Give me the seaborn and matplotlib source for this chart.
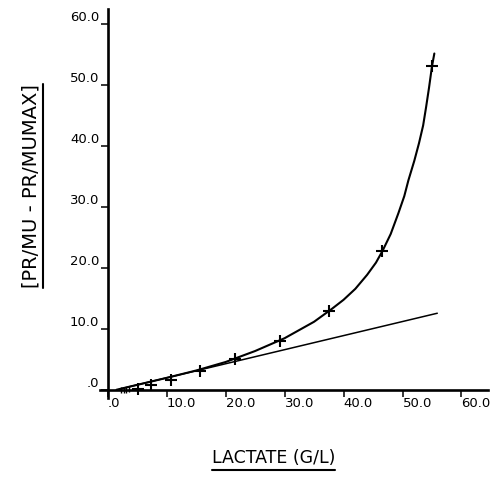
import numpy as np
import pandas as pd
import matplotlib
matplotlib.use("Agg")
import matplotlib.pyplot as plt
import seaborn as sns
from matplotlib.lines import Line2D

lactate_obs = [5.2, 7.4, 10.8, 15.6, 21.6, 29.2, 37.6, 46.6, 55.0]
ratio_obs = [0.2, 0.8, 1.6, 3.1, 5.1, 8.0, 13.0, 22.8, 53.1]

# tiny marks crowded near the origin
lactate_near0 = [2.3, 2.7, 3.1, 3.6]
ratio_near0 = [0.0, 0.0, 0.05, 0.1]

# fitted curve
curve_x = [1.5, 5.0, 10.0, 15.0, 20.0, 25.0, 30.0, 35.0, 38.0, 40.0, 42.0,
           44.0, 45.5, 46.6, 48.0, 49.3, 50.3, 51.0, 52.0, 52.8, 53.5, 54.0,
           54.5, 55.0, 55.4]
curve_y = [0.05, 0.85, 2.0, 3.2, 4.6, 6.4, 8.5, 11.2, 13.3, 14.8, 16.6,
           18.9, 20.9, 22.8, 25.6, 29.0, 31.8, 34.4, 37.6, 40.5, 43.4, 46.4,
           49.6, 53.1, 55.2]

# initial straight-line asymptote
line_x = [2.0, 55.9]
line_y = [0.16, 12.6]

x_ticks = [0, 10, 20, 30, 40, 50, 60]
x_ticklabels = [".0", "10.0", "20.0", "30.0", "40.0", "50.0", "60.0"]
y_ticks = [0, 10, 20, 30, 40, 50, 60]
y_ticklabels = [".0", "10.0", "20.0", "30.0", "40.0", "50.0", "60.0"]

sns.set_style("ticks")
plt.rcParams["font.family"] = ["DejaVu Sans"]
plt.rcParams["text.color"] = "black"
plt.rcParams["xtick.color"] = "black"
plt.rcParams["ytick.color"] = "black"

fig = plt.figure(figsize=(4.97, 4.78), dpi=100)
ax = fig.add_axes([0.2012, 0.1674, 0.7807, 0.8138])

df_curve = pd.DataFrame({"x": curve_x, "y": curve_y})
df_line = pd.DataFrame({"x": line_x, "y": line_y})
df_obs = pd.DataFrame({"x": lactate_obs, "y": ratio_obs})
df_near = pd.DataFrame({"x": lactate_near0, "y": ratio_near0})

sns.lineplot(data=df_curve, x="x", y="y", ax=ax, color="black", linewidth=1.5)
sns.lineplot(data=df_line, x="x", y="y", ax=ax, color="black", linewidth=1.1)
sns.scatterplot(data=df_obs, x="x", y="y", ax=ax, marker="+", s=80,
                color="black", linewidth=1.5, zorder=5)
sns.scatterplot(data=df_near, x="x", y="y", ax=ax, marker="|", s=25,
                color="black", linewidth=1.0, zorder=5)

ax.set_xlim(-1.3, 64.5)
ax.set_ylim(-1.3, 62.5)
sns.despine(ax=ax)
ax.spines["left"].set_position(("data", 0))
ax.spines["bottom"].set_position(("data", 0))
for s in ("left", "bottom"):
    ax.spines[s].set_linewidth(1.9)
    ax.spines[s].set_color("black")

ax.set_xticks(x_ticks)
ax.set_xticklabels(x_ticklabels, ha="left", fontsize=9.5)
ax.set_yticks(y_ticks)
ax.set_yticklabels(y_ticklabels, va="bottom", fontsize=9.5)
ax.tick_params(axis="x", length=5, width=1.1, pad=0, direction="out")
ax.tick_params(axis="y", length=5, width=1.1, pad=1, direction="out")
ax.set_xlabel("")
ax.set_ylabel("")

# axis titles, underlined like the original
ylab = fig.text(0.062, 0.61, "[PR/MU - PR/MUMAX]", rotation=90,
                ha="center", va="center", fontsize=14)
xlab = fig.text(0.55, 0.042, "LACTATE (G/L)", ha="center", va="center",
                fontsize=12.5)

fig.canvas.draw()
r = fig.canvas.get_renderer()
inv = fig.transFigure.inverted()
bb = ylab.get_window_extent(r).transformed(inv)
fig.add_artist(Line2D([bb.x1 + 0.006, bb.x1 + 0.006], [bb.y0, bb.y1],
                      color="black", linewidth=1.5, transform=fig.transFigure))
bb = xlab.get_window_extent(r).transformed(inv)
fig.add_artist(Line2D([bb.x0, bb.x1], [bb.y0 - 0.006, bb.y0 - 0.006],
                      color="black", linewidth=1.5, transform=fig.transFigure))

fig.savefig("out.png", dpi=100)
